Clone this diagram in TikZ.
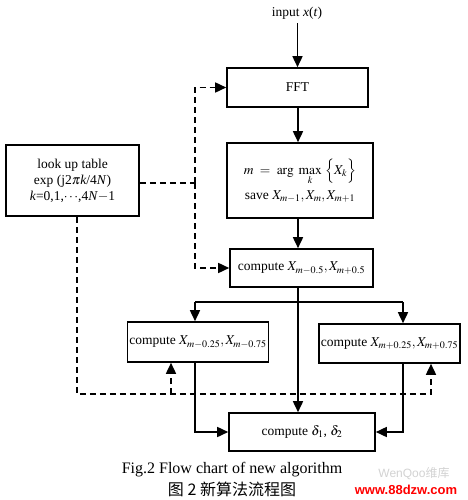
\documentclass[tikz,border=0pt]{standalone}
\usepackage{mathptmx}
\usepackage{fontspec}
\setmainfont{Liberation Serif}
\newfontfamily\cjk{Noto Sans CJK SC}
\newfontfamily\wmfont{Liberation Sans}
\usetikzlibrary{arrows.meta}
\begin{document}
\begin{tikzpicture}[x=1pt,y=-1pt,line width=1.6pt,font=\fontsize{13.5}{16}\selectfont,
  box/.style={draw,rectangle,inner sep=2pt,align=center},
  arr/.style={-{Stealth[length=11pt,width=10pt,inset=0pt]}},
  darr/.style={arr,dash pattern=on 6pt off 4pt}]
\useasboundingbox (0,0) rectangle (467,500);
\node (in) at (297,13) {input \textit{x}(\textit{t})};
\node[box,minimum width=141pt,minimum height=39pt] (fft) at (297.5,87.5) {FFT};
\node[box,minimum width=146pt,minimum height=75pt] (amax) at (300,180.5) {$m\ =\ \arg\ \max\limits_{k}\ \Bigl\{X_k\Bigr\}$\\[5pt] save $X_{m-1},X_m,X_{m+1}$};
\node[box,minimum width=133pt,minimum height=71pt] (lut) at (72.5,180.5) {look up table\\ exp (j2$\pi$\textit{k}/4\textit{N})\\ \textit{k}=0,1,$\cdots$,4\textit{N}$-$1};
\node[box,minimum width=143pt,minimum height=38pt] (c05) at (301.5,268) {compute $X_{m-0.5},X_{m+0.5}$};
\node[box,minimum width=140pt,minimum height=40pt] (cl) at (198,342) {compute $X_{m-0.25},X_{m-0.75}$};
\node[box,minimum width=139pt,minimum height=39pt] (cr) at (389.5,343.5) {compute $X_{m+0.25},X_{m+0.75}$};
\node[box,minimum width=146pt,minimum height=38pt] (cd) at (302,432) {compute $\delta_1$, $\delta_2$};
% main flow
\coordinate (br) at (298,302); \coordinate (jl) at (195,302); \coordinate (jr) at (403,302);
\draw[arr] (in.south -| fft) -- (fft.north);
\draw[arr] (fft.south -| br) -- (br |- amax.north);
\draw[arr] (amax.south -| br) -- (br |- c05.north);
\draw (c05.south -| br) -- (br) (jl) -- (jr);
\draw[arr] (br) -- (br |- cd.north);
\draw[arr] (jl) -- (jl |- cl.north);
\draw[arr] (jr) -- (jr |- cr.north);
\draw[arr] (jl |- cl.south) |- (cd.west);
\draw[arr] (jr |- cr.south) |- (cd.east);
% table look-ups
\coordinate (dv) at (195,183); \coordinate (dd) at (431,394); \coordinate (dm) at (171,394);
\draw[dash pattern=on 6pt off 4pt] (lut.east |- dv) -- (dv);
\draw[darr] (dv) |- (fft.west);
\draw[darr] (dv) |- (c05.west);
\draw[darr] ([xshift=4.5pt]lut.south) |- (dd) -- (dd |- cr.south);
\draw[darr] (dm) -- (dm |- cl.south);
% caption
\node[font=\fontsize{16}{18}\selectfont] (cap) at (232,470) {Fig.2 Flow chart of new algorithm};
\node[font=\fontsize{16}{18}\selectfont\cjk] (capcn) at (232,489) {图 2 新算法流程图};
\node[font=\fontsize{12}{14}\selectfont\wmfont,text=gray!35] (wm1) at (414,474) {WenQoo{\cjk 维库}};
\node[font=\fontsize{13}{15}\selectfont\wmfont\bfseries,text=red] (wm2) at (406,490) {www.88dzw.com};
\end{tikzpicture}
\end{document}
